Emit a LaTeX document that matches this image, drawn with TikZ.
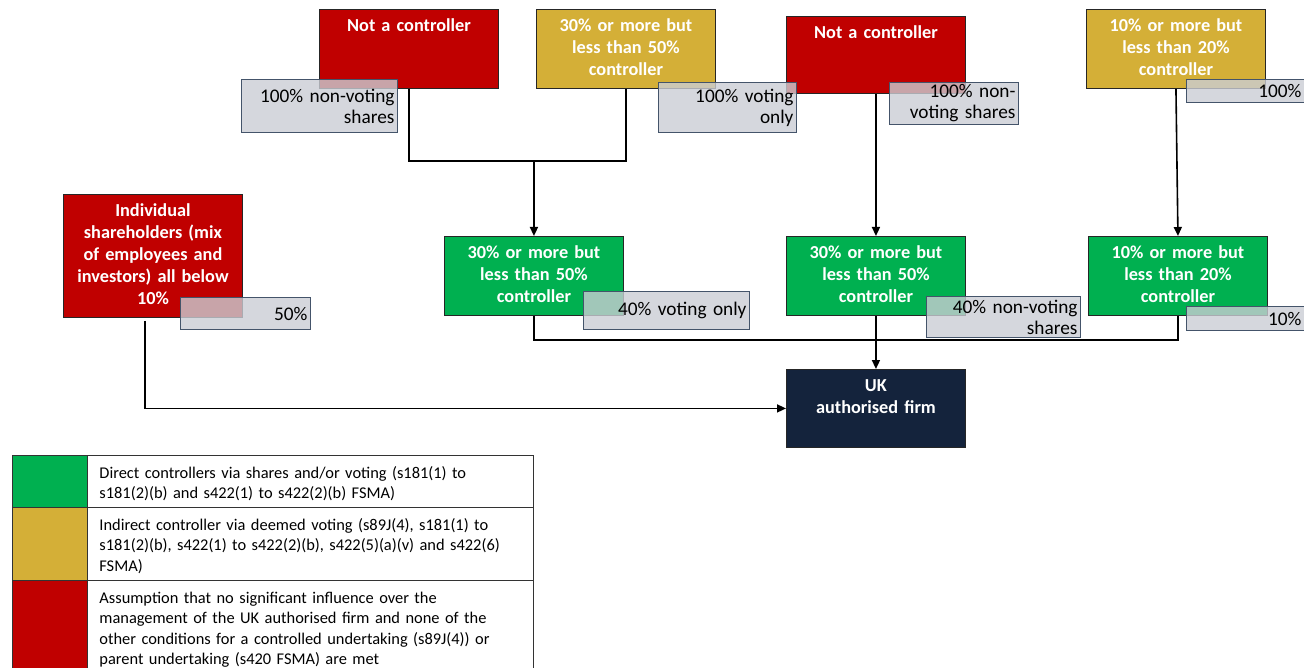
\documentclass[tikz,border=0pt]{standalone}
\usepackage{fontspec}
\setmainfont{Carlito}
\usetikzlibrary{positioning,arrows.meta}

\definecolor{ncred}{HTML}{C00000}
\definecolor{indgold}{HTML}{D4AF37}
\definecolor{dirgreen}{HTML}{00B050}
\definecolor{firmnavy}{HTML}{14233C}
\definecolor{lblgrey}{HTML}{CACDD4}
\definecolor{lblslate}{HTML}{44546A}

\newcommand{\boxfont}{\fontsize{18.3}{22}\selectfont\bfseries}
\newcommand{\lblfont}{\fontsize{19.3}{21}\selectfont}
\newcommand{\legfont}{\fontsize{16.4}{20.5}\selectfont}

\tikzset{
  cbox/.style={draw=black!85, line width=0.9pt, text=white, font=\boxfont,
    text width=171pt, inner xsep=4pt, inner ysep=6pt, text height=16pt,
    text depth=51pt, align=center, anchor=north west},
  lbl/.style={draw=lblslate, line width=1pt, fill=lblgrey, fill opacity=0.8,
    text opacity=1, font=\lblfont, inner xsep=3pt, inner ysep=0pt,
    align=right, anchor=north west},
  legcell/.style={draw=black!80, line width=0.9pt, minimum width=75pt,
    inner sep=0pt, anchor=north west},
  legtext/.style={draw=black!80, line width=0.9pt, font=\legfont,
    text width=422pt, inner xsep=12pt, inner ysep=6pt, text height=17pt,
    align=left, anchor=north west},
  link/.style={line width=1.6pt}
}

\begin{document}
\begin{tikzpicture}[x=1pt, y=-1pt, >={Triangle[length=9pt, width=8pt]}]
  \clip (0,0) rectangle (1304,668);

  % Top owners
  \node[cbox, fill=ncred] (nc1) at (319,9) {Not a controller};
  \node[cbox, fill=indgold] (gold1) at (536,9) {30\% or more but\\less than 50\%\\controller};
  \node[cbox, fill=ncred, text depth=49pt] (nc2) at (786,16) {Not a controller};
  \node[cbox, fill=indgold] (gold2) at (1086,9) {10\% or more but\\less than 20\%\\controller};

  % Individual shareholders
  \node[cbox, fill=ncred, text depth=95pt] (indiv) at (63,194)
    {Individual\\shareholders (mix\\of employees and\\investors) all below\\10\%};

  % Direct controllers
  \node[cbox, fill=dirgreen] (gr1) at (444,236) {30\% or more but\\less than 50\%\\controller};
  \node[cbox, fill=dirgreen] (gr2) at (786,236) {30\% or more but\\less than 50\%\\controller};
  \node[cbox, fill=dirgreen] (gr3) at (1088,236) {10\% or more but\\less than 20\%\\controller};

  % UK firm
  \node[cbox, fill=firmnavy, text depth=50pt] (firm) at (786,369) {UK\\authorised firm};

  % Connectors
  \coordinate (j1) at (gr1.north |- 0,161);
  \draw[link] (nc1.south) |- (j1) -| (gold1.south);
  \draw[link, ->] (j1) -- (gr1.north);
  \draw[link, ->] (nc2.south) -- (gr2.north);
  \draw[link, ->] (gold2.south) -- (gr3.north);
  \coordinate (j2) at (gr2.south |- 0,340);
  \draw[link] (gr1.south) |- (j2) -| (gr3.south);
  \draw[link, ->] (gr2.south) -- (firm.north);
  \coordinate (s0) at ([xshift=-8pt, yshift=-3pt]indiv.south);
  \draw[link, ->] (s0) |- (firm.west);

  % Holdings
  \node[lbl, text width=150pt, minimum height=53pt] (l1) at (241,79) {100\% non-voting\\shares};
  \node[lbl, text width=132pt, minimum height=50pt] (l2) at (658,82) {100\% voting\\only};
  \node[lbl, text width=123pt, minimum height=42pt] (l3) at (889,82) {100\% non-\\voting shares};
  \node[lbl, text width=112pt, minimum height=23pt] (l4) at (1186,79) {100\%};
  \node[lbl, text width=124pt, minimum height=32pt] (l5) at (180,297) {50\%};
  \node[lbl, text width=160pt, minimum height=38pt] (l6) at (583,291) {40\% voting only};
  \node[lbl, text width=148pt, minimum height=41pt] (l7) at (926,296) {40\% non-voting\\shares};
  \node[lbl, text width=112pt, minimum height=24pt] (l8) at (1186,306) {10\%};

  % Key
  \node[legcell, fill=dirgreen, minimum height=52pt] (k1) at (12,455) {};
  \node[legcell, fill=indgold, minimum height=73pt] (k2) at (12,507) {};
  \node[legcell, fill=ncred, minimum height=100pt] (k3) at (12,580) {};
  \node[legtext, text depth=23pt] (t1) at (87,455)
    {Direct controllers via shares and/or voting (s181(1) to\\s181(2)(b) and s422(1) to s422(2)(b) FSMA)};
  \node[legtext, text depth=44pt] (t2) at (87,507)
    {Indirect controller via deemed voting (s89J(4), s181(1) to\\s181(2)(b), s422(1) to s422(2)(b), s422(5)(a)(v) and s422(6)\\FSMA)};
  \node[legtext, text depth=71pt] (t3) at (87,580)
    {Assumption that no significant influence over the\\management of the UK authorised firm and none of the\\other conditions for a controlled undertaking (s89J(4)) or\\parent undertaking (s420 FSMA) are met};
\end{tikzpicture}
\end{document}
